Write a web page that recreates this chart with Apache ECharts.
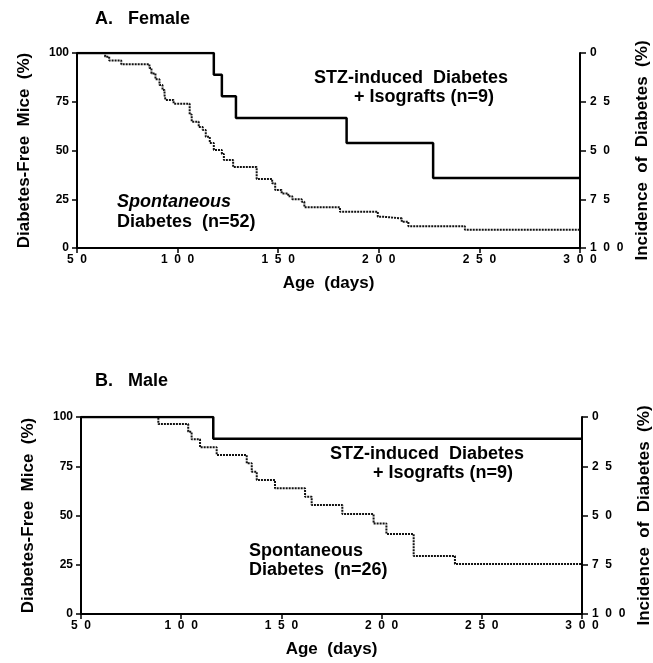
<!DOCTYPE html>
<html>
<head>
<meta charset="utf-8">
<script src="https://cdn.jsdelivr.net/npm/echarts@6/dist/echarts.min.js"></script>
<style>
html,body{margin:0;padding:0;background:#fff;}
#chart{width:653px;height:663px;}
</style>
</head>
<body>
<div id="chart"></div>
<script>
// ---- Data ----
const xTicks = [50, 100, 150, 200, 250, 300];
const yTicks = [0, 25, 50, 75, 100];

// Panel A: Female
const femaleStzDays = [50, 118, 122, 129, 184, 227, 300];
const femaleStzVals = [100, 88.9, 77.8, 66.7, 53.8, 35.9, 35.9];

const femaleSpontDays = [50, 64, 66, 72, 86, 87, 89, 91, 92.5, 93.5, 94, 98, 106, 107, 110.5, 112.5, 114, 116, 118, 122, 123, 127.6, 139.3, 147, 148.5, 151.7, 155, 157, 161.7, 163, 180.7, 199.5, 202.3, 211.4, 214.7, 242.8, 300];
const femaleSpontVals = [100, 98.1, 96.2, 94.2, 92.3, 89.5, 86.5, 83.6, 81, 78.5, 75.9, 74, 68.5, 64.8, 62, 60.5, 57, 53.8, 50.3, 48.2, 45.1, 41.5, 35.4, 33.2, 29.7, 28, 26.5, 25, 23.7, 20.9, 18.6, 16, 15.2, 13.5, 11.2, 9.4, 9.4];

// Panel B: Male
const maleStzDays = [50, 116, 300];
const maleStzVals = [100, 88.9, 88.9];

const maleSpontDays = [50, 88.6, 103.5, 105.2, 109.4, 117.7, 132.7, 135.2, 137.7, 146.8, 161.8, 165.1, 180.4, 196, 202.4, 216, 236.6, 300];
const maleSpontVals = [100, 96.4, 92.5, 88.7, 84.6, 80.7, 76.5, 72.2, 68, 63.8, 59.5, 55.3, 50.8, 46, 40.6, 29.4, 25.4, 25.4];

// ---- Build ----
function pairs(xs, ys) { return xs.map((x, i) => [x, ys[i]]); }
const FONT = '"Liberation Sans", Arial, Helvetica, sans-serif';
const spaced = v => String(v).split('').join('  ');

function xAxisFor(gridIndex) {
  return {
    type: 'value', gridIndex, min: xTicks[0], max: xTicks[xTicks.length - 1], interval: 50,
    name: 'Age  (days)', nameLocation: 'middle', nameGap: 27,
    nameTextStyle: { fontFamily: FONT, fontWeight: 'bold', fontSize: 17, color: '#000' },
    axisLine: { show: true, onZero: false, lineStyle: { color: '#000', width: 2 } },
    axisTick: { show: true, inside: false, length: 5, lineStyle: { color: '#000', width: 1.5 } },
    axisLabel: { fontFamily: FONT, fontWeight: 'bold', fontSize: 12, color: '#000', margin: 6, formatter: spaced },
    splitLine: { show: false }
  };
}
function yLeftFor(gridIndex) {
  return {
    type: 'value', gridIndex, min: 0, max: 100, interval: 25, position: 'left',
    name: 'Diabetes-Free  Mice  (%)', nameLocation: 'middle', nameRotate: 90, nameGap: 44,
    nameTextStyle: { fontFamily: FONT, fontWeight: 'bold', fontSize: 17, color: '#000' },
    axisLine: { show: true, lineStyle: { color: '#000', width: 2 } },
    axisTick: { show: true, inside: false, length: 5, lineStyle: { color: '#000', width: 1.5 } },
    axisLabel: { fontFamily: FONT, fontWeight: 'bold', fontSize: 12, color: '#000', margin: 8 },
    splitLine: { show: false }
  };
}
function yRightFor(gridIndex) {
  return {
    type: 'value', gridIndex, min: 0, max: 100, interval: 25, position: 'right', inverse: true,
    name: 'Incidence  of  Diabetes  (%)', nameLocation: 'middle', nameRotate: 90, nameGap: 54,
    nameTextStyle: { fontFamily: FONT, fontWeight: 'bold', fontSize: 17, color: '#000' },
    axisLine: { show: true, lineStyle: { color: '#000', width: 2 } },
    axisTick: { show: true, inside: false, length: 6, lineStyle: { color: '#000', width: 1.5 } },
    axisLabel: { fontFamily: FONT, fontWeight: 'bold', fontSize: 12, color: '#000', margin: 10, formatter: spaced },
    splitLine: { show: false }
  };
}
function solid(xi, yi, data) {
  return { type: 'line', xAxisIndex: xi, yAxisIndex: yi, step: 'end', data, symbol: 'none',
    lineStyle: { color: '#000', width: 2.5 }, z: 3, animation: false };
}
function dotted(xi, yi, data) {
  return { type: 'line', xAxisIndex: xi, yAxisIndex: yi, step: 'end', data, symbol: 'none',
    lineStyle: { color: '#111', width: 2, type: [2, 1] }, z: 2, animation: false };
}
function txt(x, y, text, opts) {
  return { type: 'text', left: x, top: y, style: Object.assign({
    text, fontFamily: FONT, fontWeight: 'bold', fontSize: 18, fill: '#000' }, opts || {}) };
}

const chart = echarts.init(document.getElementById('chart'), null, { renderer: 'canvas' });
chart.setOption({
  backgroundColor: '#fff',
  animation: false,
  grid: [
    { left: 77, top: 53, width: 503, height: 195, containLabel: false, outerBoundsMode: 'none' },
    { left: 81, top: 417, width: 501, height: 197, containLabel: false, outerBoundsMode: 'none' }
  ],
  xAxis: [xAxisFor(0), xAxisFor(1)],
  yAxis: [yLeftFor(0), yRightFor(0), yLeftFor(1), yRightFor(1)],
  series: [
    dotted(0, 0, pairs(femaleSpontDays, femaleSpontVals)),
    solid(0, 0, pairs(femaleStzDays, femaleStzVals)),
    dotted(1, 2, pairs(maleSpontDays, maleSpontVals)),
    solid(1, 2, pairs(maleStzDays, maleStzVals))
  ],
  graphic: [
    txt(95, 10, 'A.   Female', { fontSize: 18 }),
    txt(95, 372, 'B.   Male', { fontSize: 18 }),
    txt(314, 69, 'STZ-induced  Diabetes'),
    txt(354, 88, '+ Isografts (n=9)'),
    txt(117, 193, 'Spontaneous', { fontStyle: 'italic' }),
    txt(117, 213, 'Diabetes  (n=52)'),
    txt(330, 445, 'STZ-induced  Diabetes'),
    txt(373, 464, '+ Isografts (n=9)'),
    txt(249, 542, 'Spontaneous'),
    txt(249, 561, 'Diabetes  (n=26)')
  ]
});
</script>
</body>
</html>
